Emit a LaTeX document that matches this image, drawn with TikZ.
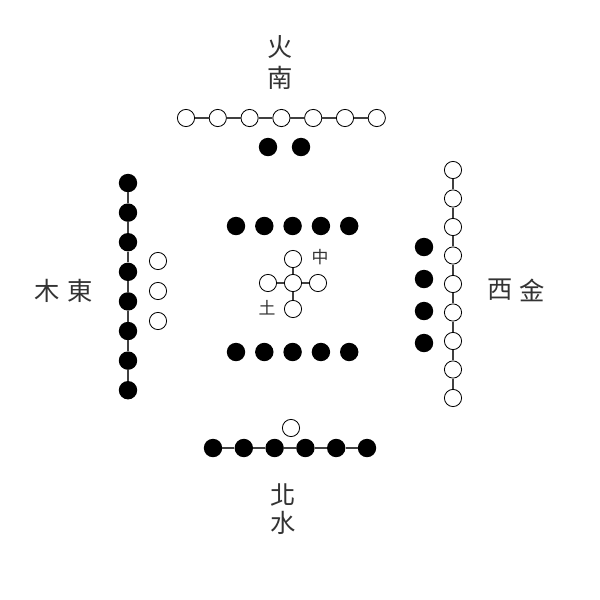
\documentclass[tikz,border=0pt]{standalone}
\usepackage{fontspec}
\newfontfamily\cjk{Noto Sans CJK TC}
\begin{document}
\begin{tikzpicture}
		[x=0.025cm, y=-0.025cm,
		yang/.style={draw,circle,fill=white,line width=0.6pt,minimum size=0.43cm,inner sep=0pt},
		yin/.style={circle,fill=black,minimum size=0.46cm,inner sep=0pt},
		link/.style={line width=0.8pt,black!75},
		word/.style={font=\cjk\fontsize{18}{18}\selectfont,text=black!80},
		tiny/.style={font=\cjk\fontsize{12}{12}\selectfont,text=black!80}]
		\useasboundingbox (0,0) rectangle (600,600);

		% South: fire
		\node[word] (fire) at (280,47) {火};
		\node[word] (south) at (280,78) {南};
		\foreach \i in {1,...,7}
			\node[yang] (s\i) at ({186+31.8*(\i-1)},118) {};
		\foreach \i [evaluate=\i as \j using int(\i-1)] in {2,...,7}
			\draw[link] (s\j) -- (s\i);
		\node[yin] (sa) at (268,147) {};
		\node[yin] (sb) at (301,147) {};

		% Centre: earth
		\foreach \i in {1,...,5} {
			\node[yin] (ct\i) at ({236+28.3*(\i-1)},226) {};
			\node[yin] (cb\i) at ({236+28.3*(\i-1)},352) {};
		}
		\node[yang] (c) at (293,283) {};
		\node[yang] (cn) at (293,259) {};
		\node[yang] (cw) at (268,283) {};
		\node[yang] (ce) at (318,283) {};
		\node[yang] (cs) at (293,309) {};
		\foreach \n in {cn,cw,ce,cs}
			\draw[link] (c) -- (\n);
		\node[tiny] (middle) at (320,257) {中};
		\node[tiny] (earth) at (267,308) {土};

		% East: wood
		\node[word] (wood) at (47,291) {木};
		\node[word] (east) at (80,291) {東};
		\foreach \i in {1,...,8}
			\node[yin] (e\i) at (128,{183+29.6*(\i-1)}) {};
		\foreach \i [evaluate=\i as \j using int(\i-1)] in {2,...,8}
			\draw[link] (e\j) -- (e\i);
		\foreach \i in {1,2,3}
			\node[yang] (ea\i) at (158,{261+30*(\i-1)}) {};

		% West: metal
		\node[word] (west) at (500,290) {西};
		\node[word] (metal) at (532,290) {金};
		\foreach \i in {1,...,9}
			\node[yang] (w\i) at (453,{170+28.5*(\i-1)}) {};
		\foreach \i [evaluate=\i as \j using int(\i-1)] in {2,...,9}
			\draw[link] (w\j) -- (w\i);
		\foreach \i in {1,...,4}
			\node[yin] (wa\i) at (424,{247+32*(\i-1)}) {};

		% North: water
		\foreach \i in {1,...,6}
			\node[yin] (n\i) at ({213+30.8*(\i-1)},448) {};
		\foreach \i [evaluate=\i as \j using int(\i-1)] in {2,...,6}
			\draw[link] (n\j) -- (n\i);
		\node[yang] (na) at (291,428) {};
		\node[word] (north) at (283,495) {北};
		\node[word] (water) at (283,523) {水};
	\end{tikzpicture}
\end{document}
